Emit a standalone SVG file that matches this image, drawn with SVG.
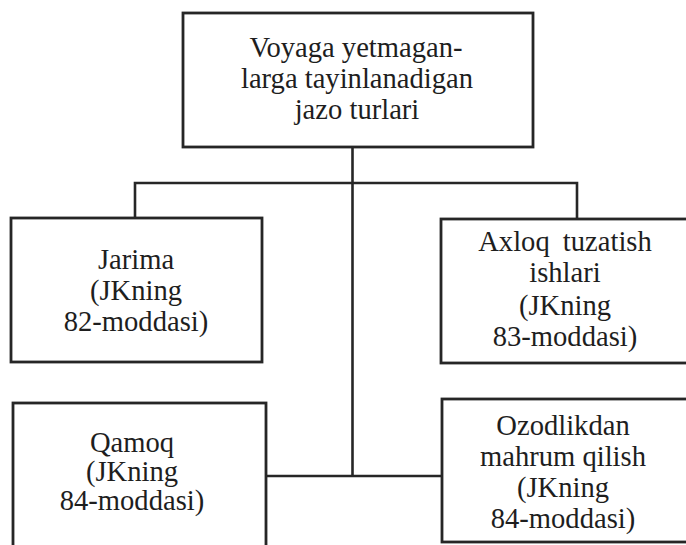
<svg xmlns="http://www.w3.org/2000/svg" width="686" height="545" viewBox="0 0 686 545">
<style>
.box{fill:none;stroke:#262626;stroke-width:2.8}
.ln{fill:none;stroke:#262626;stroke-width:2.6}
text{font-family:"Liberation Serif","Times New Roman",serif;font-size:28.6px;fill:#1e1e1e;text-anchor:middle}
</style>
<rect x="0" y="0" width="686" height="545" fill="#ffffff"/>
<g id="connectors">
<line class="ln" x1="352.5" y1="147" x2="352.5" y2="476"/>
<polyline class="ln" points="135,218 135,183 577,183 577,219"/>
<line class="ln" x1="266" y1="476" x2="442" y2="476"/>
</g>
<g id="root">
<rect class="box" x="183" y="13" width="350" height="134"/>
<text x="356" y="57">Voyaga yetmagan-</text>
<text x="357" y="88">larga tayinlanadigan</text>
<text x="357" y="119">jazo turlari</text>
</g>
<g id="jarima">
<rect class="box" x="11" y="218" width="251" height="144"/>
<text x="136" y="269">Jarima</text>
<text x="136" y="300">(JKning</text>
<text x="136" y="331">82-moddasi)</text>
</g>
<g id="axloq">
<rect class="box" x="441" y="219" width="251" height="144"/>
<text x="565" y="251" word-spacing="6">Axloq tuzatish</text>
<text x="565" y="282">ishlari</text>
<text x="565" y="315">(JKning</text>
<text x="565" y="346">83-moddasi)</text>
</g>
<g id="qamoq">
<rect class="box" x="13" y="403" width="253" height="160"/>
<text x="132" y="452">Qamoq</text>
<text x="132" y="481">(JKning</text>
<text x="132" y="510">84-moddasi)</text>
</g>
<g id="ozodlik">
<rect class="box" x="442" y="399" width="250" height="143"/>
<text x="563" y="435">Ozodlikdan</text>
<text x="563" y="466">mahrum qilish</text>
<text x="563" y="497">(JKning</text>
<text x="563" y="528">84-moddasi)</text>
</g>
</svg>
